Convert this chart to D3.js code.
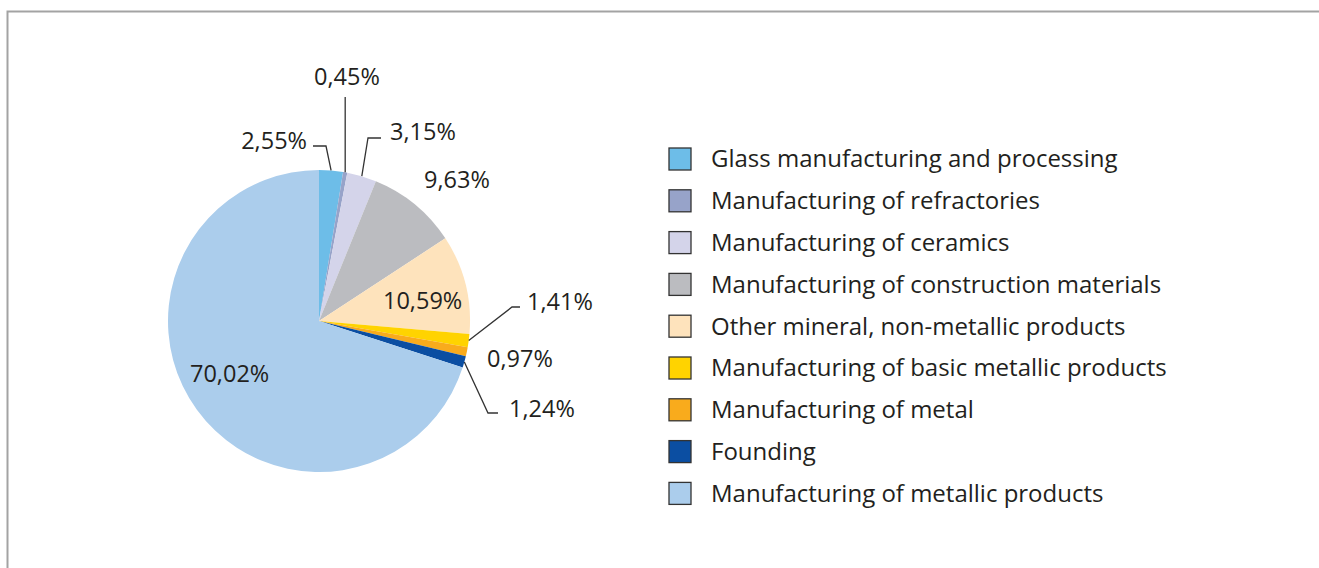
<!DOCTYPE html>
<html>
<head>
<meta charset="utf-8">
<script src="https://cdn.jsdelivr.net/npm/d3@7"></script>
<style>
  html, body { margin: 0; padding: 0; background: #fff; }
  svg { display: block; font-family: "Open Sans", sans-serif; }
</style>
</head>
<body>
<svg id="chart" width="1319" height="568"></svg>
<script>
// Sector shares (%), clockwise from 12 o'clock
const categories = [
  "Glass manufacturing and processing",
  "Manufacturing of refractories",
  "Manufacturing of ceramics",
  "Manufacturing of construction materials",
  "Other mineral, non-metallic products",
  "Manufacturing of basic metallic products",
  "Manufacturing of metal",
  "Founding",
  "Manufacturing of metallic products"
];
const values = [2.55, 0.45, 3.15, 9.63, 10.59, 1.41, 0.97, 1.24, 70.02];
const labels = ["2,55%", "0,45%", "3,15%", "9,63%", "10,59%", "1,41%", "0,97%", "1,24%", "70,02%"];
const colors = ["#6dbde8", "#97a3c9", "#d4d4ea", "#bbbcc0", "#fee3bc", "#ffd300", "#f9ab1c", "#0b4ea2", "#abcdec"];

const svg = d3.select("#chart");

// frame
svg.append("path")
  .attr("d", "M7.5,568 V11.5 H1319")
  .attr("fill", "none")
  .attr("stroke", "#a3a3a3")
  .attr("stroke-width", 2);

const cx = 319, cy = 321, R = 151;
const g = svg.append("g").attr("transform", `translate(${cx},${cy})`);

const pie = d3.pie().sort(null).value(d => d)(values);
const arc = d3.arc().innerRadius(0).outerRadius(R);

g.selectAll("path.slice")
  .data(pie)
  .join("path")
  .attr("class", "slice")
  .attr("d", arc)
  .attr("fill", (d, i) => colors[i]);

// label placement per slice: text anchor point (relative to centre), and optional leader
const pt = (a, r) => [Math.sin(a) * r, -Math.cos(a) * r];
const mid = d => (d.startAngle + d.endAngle) / 2;

const labelSpec = [
  { text: [-12, -178], anchor: "end",    leader: d => { const p = pt(mid(d), R); return [p, [7, -175], [-6, -175]]; } },
  { text: [28, -242],  anchor: "middle", leader: d => { const p = pt(mid(d), R); return [p, [p[0], -224]]; } },
  { text: [71, -187],  anchor: "start",  leader: d => { const p = pt(mid(d), R); return [p, [49, -183], [62, -183]]; } },
  { text: [105, -139], anchor: "start",  leader: null },
  { text: [64, -18],   anchor: "start",  leader: null },
  { text: [208, -17],  anchor: "start",  leader: d => { const p = pt(mid(d), R); return [p, [193, -14], [201, -14]]; } },
  { text: [168, 40],   anchor: "start",  leader: null },
  { text: [190, 90],   anchor: "start",  leader: d => { const p = pt(mid(d), R); return [p, [169, 92], [179, 92]]; } },
  { text: [-129, 55],  anchor: "start",  leader: null }
];

const lbl = g.append("g");
pie.forEach((d, i) => {
  const s = labelSpec[i];
  if (s.leader) {
    lbl.append("path")
      .attr("d", d3.line()(s.leader(d)))
      .attr("fill", "none")
      .attr("stroke", "#333")
      .attr("stroke-width", 1.3);
  }
  lbl.append("text")
    .attr("x", s.text[0])
    .attr("y", s.text[1])
    .attr("text-anchor", s.anchor)
    .attr("dominant-baseline", "middle")
    .attr("font-size", 23.5)
    .attr("fill", "#231f20")
    .text(labels[i]);
});

// legend
const legend = svg.append("g").attr("transform", "translate(669,159)");
const rowStep = 41.8;
const item = legend.selectAll("g.item")
  .data(categories)
  .join("g")
  .attr("class", "item")
  .attr("transform", (d, i) => `translate(0,${i * rowStep})`);
item.append("rect")
  .attr("x", 0).attr("y", -11)
  .attr("width", 22).attr("height", 22)
  .attr("fill", (d, i) => colors[i])
  .attr("stroke", "#333")
  .attr("stroke-width", 1.3);
item.append("text")
  .attr("x", 42)
  .attr("y", 2)
  .attr("dominant-baseline", "middle")
  .attr("font-size", 24)
  .attr("fill", "#231f20")
  .text(d => d);
</script>
</body>
</html>
